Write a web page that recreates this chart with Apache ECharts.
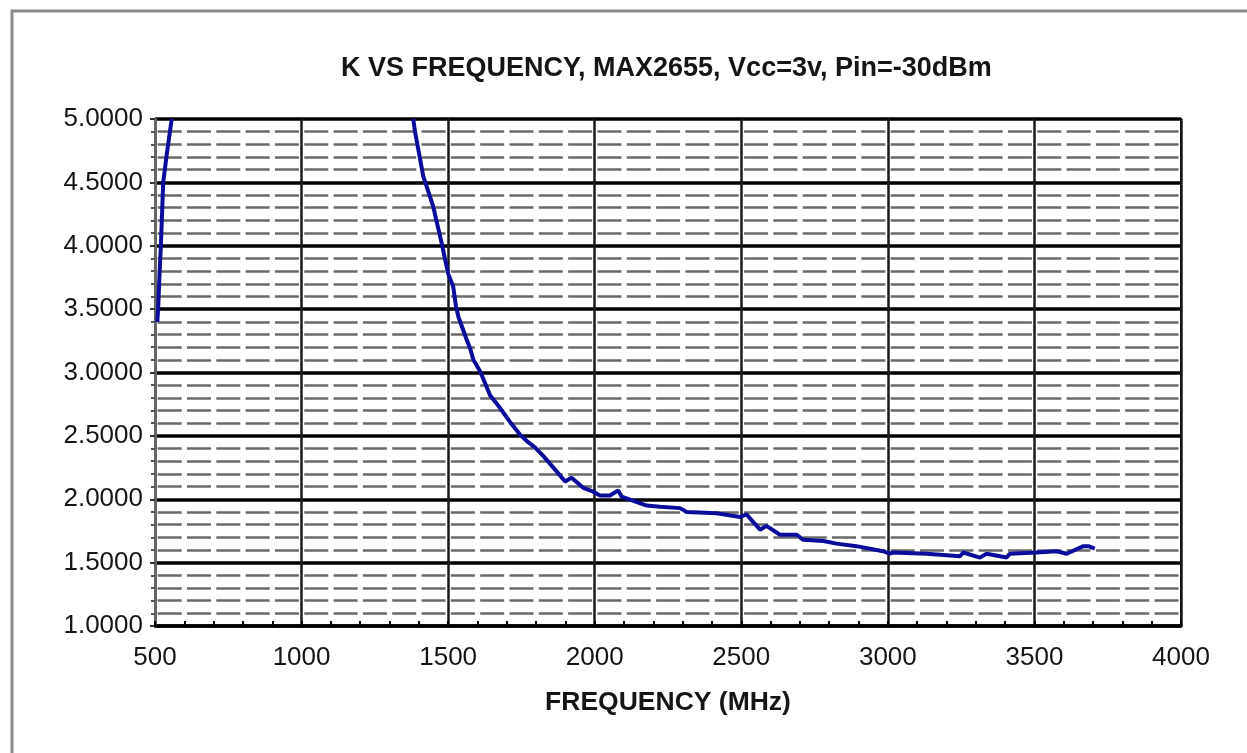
<!DOCTYPE html>
<html>
<head>
<meta charset="utf-8">
<script src="https://cdn.jsdelivr.net/npm/echarts@6/dist/echarts.min.js"></script>
<style>html,body{margin:0;padding:0;background:#fff;}#chart{width:1247px;height:753px;}</style>
</head>
<body>
<div id="chart"></div>
<script>
// Chart text
var titleText = 'K VS FREQUENCY, MAX2655, Vcc=3v, Pin=-30dBm';
var xAxisName = 'FREQUENCY (MHz)';

// Axis ranges / ticks
var xTicks = [500, 1000, 1500, 2000, 2500, 3000, 3500, 4000];
var yTicks = [1.0, 1.5, 2.0, 2.5, 3.0, 3.5, 4.0, 4.5, 5.0];

// Low-frequency branch (rises off the top of the chart)
var lowFreq = [508, 511, 515, 520, 524, 528, 540, 557];
var lowK    = [3.40, 3.52, 3.75, 4.00, 4.25, 4.50, 4.72, 5.00];

// Main branch
var mainFreq = [1381, 1387, 1415, 1449, 1478, 1500, 1517, 1527, 1535, 1563, 1575, 1586, 1609, 1643, 1677, 1711, 1745, 1773, 1796, 1825, 1870, 1899, 1921, 1961, 1995, 2018, 2052, 2080, 2092, 2177, 2223, 2291, 2314, 2416, 2496, 2518, 2564, 2586, 2632, 2689, 2711, 2780, 2825, 2893, 2984, 3007, 3018, 3132, 3246, 3257, 3314, 3337, 3405, 3416, 3507, 3576, 3610, 3667, 3684, 3706];
var mainK    = [5.00, 4.90, 4.55, 4.31, 4.02, 3.78, 3.68, 3.52, 3.44, 3.26, 3.19, 3.10, 3.01, 2.82, 2.72, 2.61, 2.51, 2.45, 2.41, 2.34, 2.22, 2.14, 2.17, 2.09, 2.06, 2.03, 2.03, 2.07, 2.02, 1.95, 1.94, 1.93, 1.90, 1.89, 1.86, 1.88, 1.76, 1.79, 1.72, 1.72, 1.68, 1.67, 1.65, 1.63, 1.59, 1.57, 1.58, 1.57, 1.55, 1.58, 1.54, 1.57, 1.54, 1.57, 1.58, 1.59, 1.57, 1.63, 1.63, 1.61];

function zip(a, b) { return a.map(function (v, i) { return [v, b[i]]; }); }

var chart = echarts.init(document.getElementById('chart'), null, {renderer: 'canvas'});
var FONT = '"Liberation Sans", Arial, sans-serif';
var lineColor = '#0b0b9c';

var option = {
  backgroundColor: '#ffffff',
  animation: false,
  title: {
    text: titleText,
    left: 341,
    top: 55,
    padding: 0,
    textStyle: {fontFamily: FONT, fontSize: 27, fontWeight: 'bold', color: '#151515'}
  },
  graphic: [{
    type: 'rect', z: -10, silent: true,
    shape: {x: 12, y: 11, width: 1270, height: 780},
    style: {fill: 'none', stroke: '#8a8a8a', lineWidth: 3}
  }],
  grid: {
    left: 155, top: 119, width: 1026, height: 507,
    show: true, borderColor: '#000', borderWidth: 2, backgroundColor: 'transparent'
  },
  xAxis: {
    type: 'value',
    min: xTicks[0], max: xTicks[xTicks.length - 1], interval: 500,
    name: xAxisName, nameLocation: 'middle', nameGap: 63,
    nameTextStyle: {fontFamily: FONT, fontSize: 26.5, fontWeight: 'bold', color: '#151515'},
    axisLine: {show: true, lineStyle: {color: '#000', width: 3.5}},
    axisTick: {show: true, inside: true, length: 5, lineStyle: {color: '#000', width: 2}},
    minorTick: {show: true, splitNumber: 5, length: 5, lineStyle: {color: '#000', width: 2}},
    axisLabel: {margin: 19, fontFamily: FONT, fontSize: 26, color: '#151515',
      formatter: function (v) { return String(v); }},
    splitLine: {show: true, lineStyle: {color: '#1a1a1a', width: 2.5}}
  },
  yAxis: {
    type: 'value',
    min: yTicks[0], max: yTicks[yTicks.length - 1], interval: 0.5,
    axisLine: {show: true, lineStyle: {color: '#666', width: 3}},
    axisTick: {show: true, inside: false, length: 5, lineStyle: {color: '#333', width: 2}},
    minorTick: {show: true, splitNumber: 5, length: 4, lineStyle: {color: '#555', width: 2}},
    axisLabel: {margin: 12, fontFamily: FONT, fontSize: 26, color: '#151515',
      formatter: function (v) { return v.toFixed(4); }},
    splitLine: {show: true, lineStyle: {color: '#000', width: 3.5}},
    minorSplitLine: {show: true, lineStyle: {color: '#6a6a6a', width: 2.6, type: [24, 5.32], dashOffset: 26.66}}
  },
  series: [
    {type: 'line', data: zip(lowFreq, lowK), showSymbol: false, symbol: 'none',
     lineStyle: {color: lineColor, width: 4}, z: 5},
    {type: 'line', data: zip(mainFreq, mainK), showSymbol: false, symbol: 'none',
     lineStyle: {color: lineColor, width: 4}, z: 5}
  ]
};
chart.setOption(option);
</script>
</body>
</html>
